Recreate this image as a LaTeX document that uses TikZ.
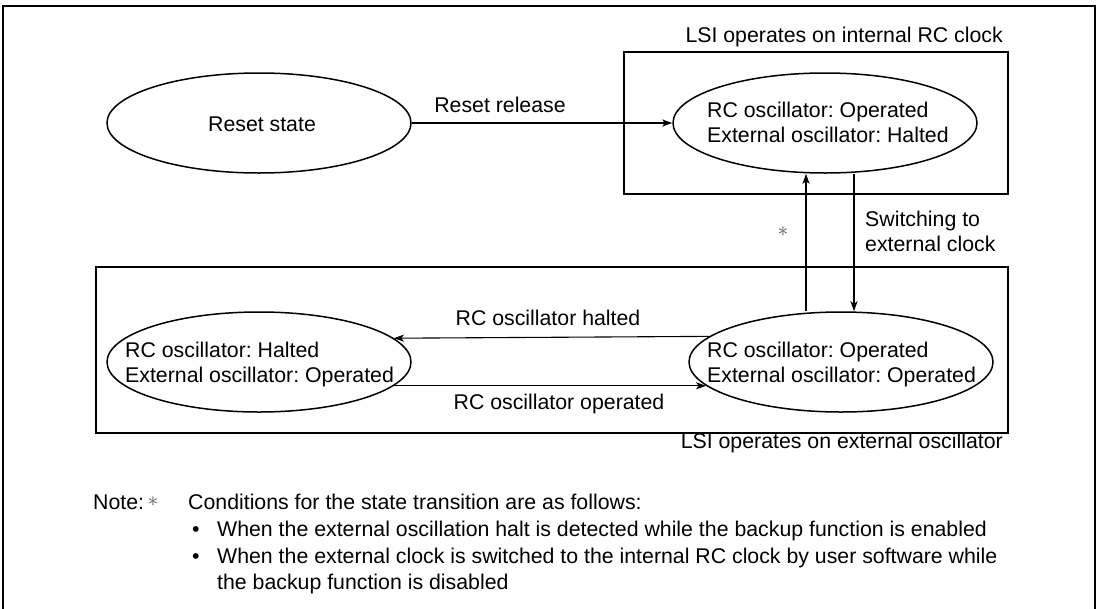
\documentclass[tikz,border=0pt]{standalone}
\usepackage{fontspec}
\setmainfont{Liberation Sans}
\usetikzlibrary{shapes.geometric,arrows.meta}
\frenchspacing
\begin{document}
\begin{tikzpicture}[x=1pt,y=-1pt,
  every node/.style={font=\fontsize{21.3}{25}\selectfont, inner sep=0pt},
  state/.style={ellipse, draw, line width=1.5pt, minimum width=304pt, minimum height=100pt, inner sep=0pt},
  area/.style={draw, line width=1.1pt, inner sep=0pt},
  arr/.style={line width=1.1pt, -{Stealth[length=10pt,width=7pt,inset=2.5pt]}},
  lbl/.style={align=left},
  notetxt/.style={anchor=base west, font=\fontsize{21.3}{26.5}\selectfont}]
\useasboundingbox (0,0) rectangle (1099,608);
% outer frame
\draw[line width=2.5pt] (3,610) -- (3,6) -- (1095,6) -- (1095,610);
% region boxes
\node[area, minimum width=384pt, minimum height=142pt] (ibox) at (816,123) {};
\node[area, minimum width=912pt, minimum height=166pt] (ebox) at (552,350) {};
% states
\node[state] (reset) at (259,123) {};
\node[state] (rc) at (825,123) {};
\node[state] (ext) at (259,362) {};
\node[state] (both) at (841,362) {};
% state texts
\node (resettxt) at (262,124) {Reset state};
\node[lbl, anchor=west] (rctxt) at (707,122) {RC oscillator: Operated\\External oscillator: Halted};
\node[lbl, anchor=west] (exttxt) at (125,364) {RC oscillator: Halted\\External oscillator: Operated};
\node[lbl, anchor=west] (bothtxt) at (707,364) {RC oscillator: Operated\\External oscillator: Operated};
% region labels
\node[anchor=east] (il) at (1003,37) {LSI operates on internal RC clock};
\node[anchor=east] (el) at (1003,443) {LSI operates on external oscillator};
% connectors
\coordinate (upx) at (806,0);
\coordinate (dnx) at (854,0);
\draw[arr] (reset.east) -- (rc.west);
\draw[arr] (both.north -| upx) -- (rc.south -| upx);
\draw[arr] (rc.south -| dnx) -- (both.north -| dnx);
\draw[arr] (both.169.2) -- (ext.10.8);
\draw[arr] (ext.-10.8) -- (both.190.8);
% connector labels
\node (rrl) at (500,105) {Reset release};
\node[text=black!70] (star) at (783,232) {$\ast$};
\node[lbl, anchor=west] (swl) at (865,231) {Switching to\\external clock};
\node (hl) at (548,318) {RC oscillator halted};
\node (ol) at (559,404) {RC oscillator operated};
% note
\node[notetxt] (note) at (93,509) {Note:};
\node[text=black!70] (star2) at (153,502) {$\ast$};
\node[notetxt] (n1) at (188,509) {Conditions for the state transition are as follows:};
\node[notetxt] (b1) at (192,536) {•};
\node[notetxt] (n2) at (217,536) {When the external oscillation halt is detected while the backup function is enabled};
\node[notetxt] (b2) at (192,563) {•};
\node[notetxt] (n3) at (217,563) {When the external clock is switched to the internal RC clock by user software while};
\node[notetxt] (n4) at (217,589) {the backup function is disabled};
\end{tikzpicture}
\end{document}
